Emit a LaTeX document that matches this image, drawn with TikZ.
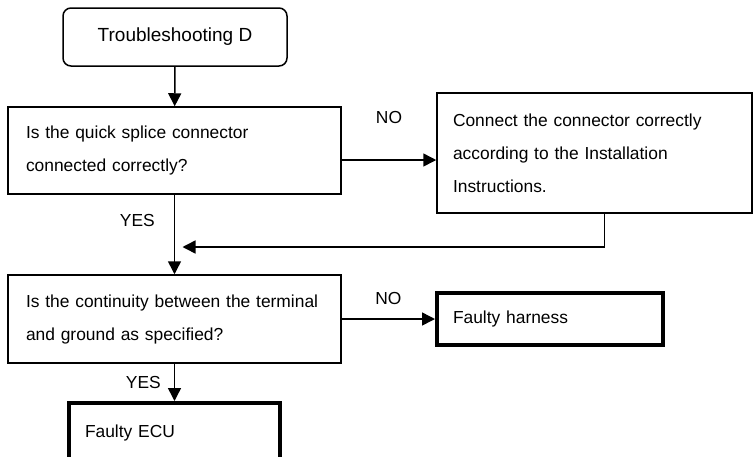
\documentclass[tikz,border=0pt]{standalone}
\usepackage{fontspec}
\setmainfont{Liberation Sans}
\usetikzlibrary{arrows.meta,positioning}

\tikzset{
    stepbox/.style={draw, line width=1.5pt, align=left, inner xsep=18pt, inner ysep=0pt,
                    font=\fontsize{17.4}{33}\selectfont},
    endbox/.style={draw, line width=4pt, align=left, inner xsep=16pt, inner ysep=0pt,
                   font=\fontsize{17.4}{33}\selectfont},
    flowarrow/.style={line width=1.5pt, -{Triangle[length=13pt,width=13pt]}},
    answer/.style={font=\fontsize{17.4}{20}\selectfont, inner sep=0pt}
}

\begin{document}
\begin{tikzpicture}[x=1pt, y=-1pt]
    \useasboundingbox (0,0) rectangle (753,456);

    % start
    \node[draw, line width=1.5pt, rounded corners=8pt, minimum width=224pt, minimum height=58pt,
          font=\fontsize{19}{22}\selectfont] (start) at (175,37) {Troubleshooting D};

    % questions
    \node[stepbox, text width=297pt, minimum height=87pt] (qsplice) at (174.5,150.5)
        {Is the quick splice connector\\connected correctly?};
    \node[stepbox, text width=297pt, minimum height=88pt] (qground) at (174.5,319)
        {Is the continuity between the terminal\\and ground as specified?};

    % actions
    \node[stepbox, inner xsep=16pt, text width=283pt, minimum height=120pt] (fixconn) at (594.5,153)
        {Connect the connector correctly\\according to the Installation\\Instructions.};
    \node[endbox, text width=194pt, minimum height=52pt] (harness) at (550,319)
        {\raisebox{-3pt}{Faulty harness}};
    \node[endbox, text width=179pt, minimum height=60pt] (ecu) at (174.5,433) {Faulty ECU};

    \coordinate (join) at ([xshift=8pt]qsplice.south |- 0,247);

    % connectors
    \draw[flowarrow] (start) -- (qsplice);
    \draw[flowarrow] ([yshift=-9.5pt]qsplice.east) -- ([yshift=-9.5pt]qsplice.east -| fixconn.west)
        node[answer, midway, yshift=42pt] {NO};
    \draw[flowarrow] (qsplice) -- (qground)
        node[answer, pos=0.33, left=19pt] {YES};
    \draw[flowarrow] ([xshift=10pt]fixconn.south) |- (join);
    \draw[flowarrow] (qground) -- (harness)
        node[answer, midway, yshift=20pt] {NO};
    \draw[flowarrow] (qground) -- (ecu)
        node[answer, midway, left=13pt] {YES};
\end{tikzpicture}
\end{document}
